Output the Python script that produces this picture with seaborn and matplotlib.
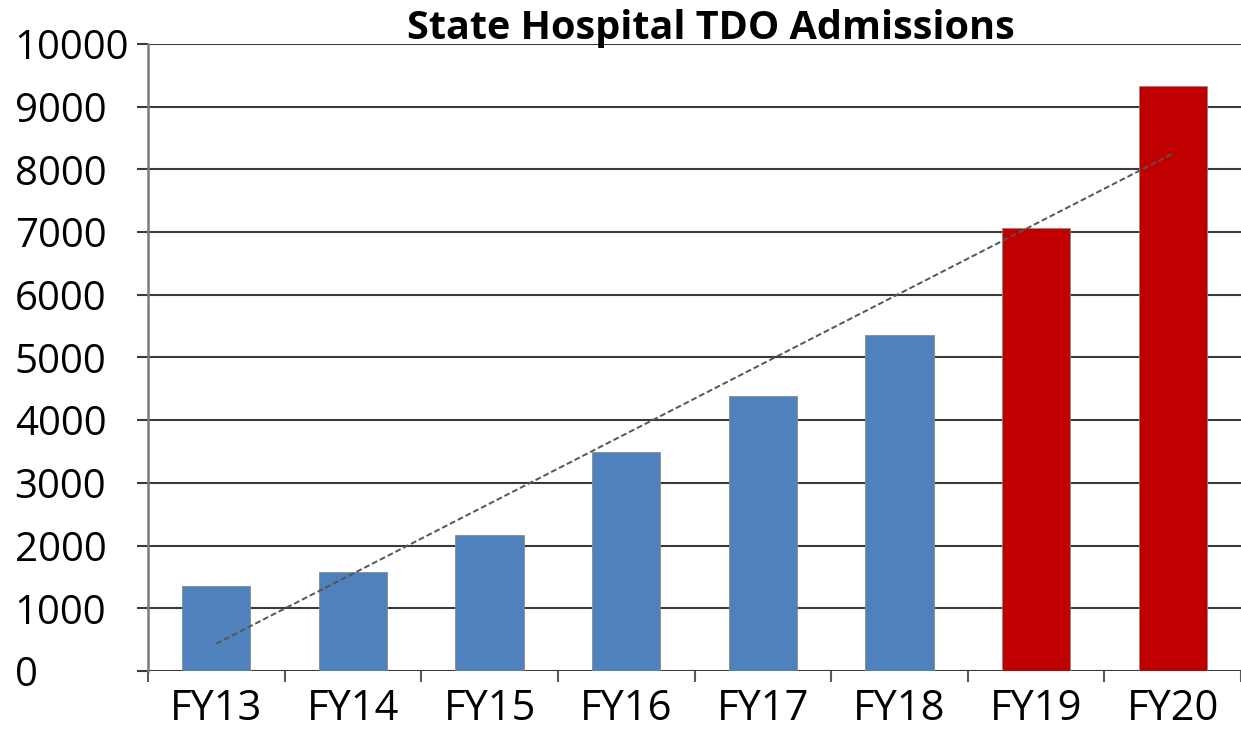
import numpy as np
import pandas as pd
import seaborn as sns
import matplotlib.pyplot as plt

# data
years = ["FY13", "FY14", "FY15", "FY16", "FY17", "FY18", "FY19", "FY20"]
admissions = [1350, 1580, 2170, 3500, 4390, 5360, 7070, 9330]
bar_colors = ["#4F81BD"] * 6 + ["#C00000"] * 2
y_ticks = list(range(0, 10001, 1000))

df = pd.DataFrame({"year": years, "admissions": admissions})

sns.set_style("white")
plt.rcParams["font.family"] = ["Open Sans", "DejaVu Sans"]
plt.rcParams["text.color"] = "black"
plt.rcParams["xtick.color"] = "black"
plt.rcParams["ytick.color"] = "black"

fig = plt.figure(figsize=(12.41, 7.34), dpi=100)
ax = fig.add_axes([148 / 1241, 63 / 734, 1 - 148 / 1241, 627 / 734])

sns.barplot(
    data=df, x="year", y="admissions", hue="year",
    palette=dict(zip(years, bar_colors)), legend=False,
    width=0.5, saturation=1, edgecolor="#8a8a8a", linewidth=0.6,
    ax=ax, zorder=3,
)

# linear trend line across the bars
xs = np.arange(len(years))
slope, icpt = np.polyfit(xs, admissions, 1)
ax.plot(xs, slope * xs + icpt, linestyle=(0, (3, 1.5)), color="#555555",
        linewidth=1.4, zorder=4)

ax.set_xlim(-0.5, len(years) - 0.5)
ax.set_ylim(0, 10000)
ax.set_yticks(y_ticks)
ax.set_yticklabels([str(t) for t in y_ticks], fontsize=29)
for lab in ax.get_yticklabels():
    lab.set_horizontalalignment("left")
ax.tick_params(axis="y", direction="out", length=8, width=1.5,
               color="#3a3a3a", labelcolor="black", pad=88, left=True)

# category boundaries carry the ticks, labels sit in the middle
ax.set_xticks(np.arange(-0.5, len(years), 1.0))
ax.set_xticklabels([])
ax.set_xticks(xs, minor=True)
ax.set_xticklabels(years, minor=True, fontsize=30)
ax.tick_params(axis="x", which="major", direction="out", length=8,
               width=1.5, color="#5a5a5a", bottom=True)
ax.tick_params(axis="x", which="minor", length=0, pad=12, labelcolor="black")

ax.yaxis.grid(True, color="#3a3a3a", linewidth=1.5, zorder=0)
ax.set_axisbelow(True)
for side in ["top", "right", "bottom"]:
    ax.spines[side].set_visible(False)
ax.spines["left"].set_color("#7a7a7a")
ax.spines["left"].set_linewidth(1.8)
ax.set_xlabel("")
ax.set_ylabel("")

fig.text(711 / 1241, 1 - 39 / 734, "State Hospital TDO Admissions",
         ha="center", va="baseline", fontsize=28.5, fontweight="bold",
         color="black")

fig.savefig("out.png", dpi=100)
